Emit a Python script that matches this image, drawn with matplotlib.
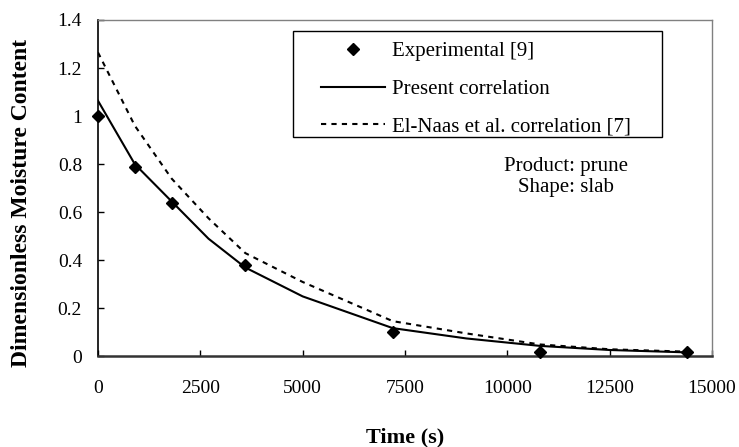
import matplotlib
matplotlib.use('Agg')
import matplotlib.pyplot as plt
from matplotlib.patches import Rectangle

plt.rcParams['font.family'] = ['Liberation Serif', 'DejaVu Serif']

# Experimental points
exp_t = [0, 900, 1800, 3600, 7200, 10800, 14400]
exp_m = [1.0, 0.79, 0.64, 0.38, 0.10, 0.02, 0.02]

# Curves
curve_t = [0, 900, 1800, 2700, 3600, 5000, 7200, 9000, 10800, 12500, 14400]
present = [1.064, 0.80, 0.645, 0.49, 0.37, 0.25, 0.118, 0.075, 0.044, 0.027, 0.017]
elnaas = [1.265, 0.96, 0.74, 0.575, 0.43, 0.31, 0.147, 0.096, 0.05, 0.03, 0.02]

xticks = [0, 2500, 5000, 7500, 10000, 12500, 15000]
yticks = [0, 0.2, 0.4, 0.6, 0.8, 1.0, 1.2, 1.4]
ytick_labels = ['0', '0.2', '0.4', '0.6', '0.8', '1', '1.2', '1.4']

fig = plt.figure(figsize=(7.39, 4.47), dpi=100)
ax = fig.add_axes([0.1326, 0.2025, 0.8309, 0.7528])

ax.plot(exp_t, exp_m, linestyle='none', marker='D', color='black',
        markersize=6.5, label='Experimental [9]', clip_on=False, zorder=4)
ax.plot(curve_t, present, color='black', lw=1.5, label='Present correlation')
ax.plot(curve_t, elnaas, color='black', lw=1.5, linestyle=(0, (2.5, 2.5)),
        label='El-Naas et al. correlation [7]')

ax.set_xlim(0, 15000)
ax.set_ylim(0, 1.4)
ax.set_xticks(xticks)
ax.set_xticklabels([str(t) for t in xticks])
ax.set_yticks(yticks)
ax.set_yticklabels(ytick_labels)
ax.tick_params(axis='both', direction='in', length=4.5, width=1, labelsize=14)
ax.tick_params(axis='x', pad=17)
ax.tick_params(axis='y', pad=11.5)

for side in ['top', 'right']:
    ax.spines[side].set_color('#808080')
    ax.spines[side].set_linewidth(1)
ax.spines['left'].set_color('black')
ax.spines['left'].set_linewidth(1.2)
ax.spines['bottom'].set_color('#333333')
ax.spines['bottom'].set_linewidth(1.8)

ax.set_xlabel('Time (s)', fontsize=16, fontweight='bold', va='center')
ax.xaxis.set_label_coords(0.5, -0.242)
ax.set_ylabel('Dimensionless Moisture Content', fontsize=17,
              fontweight='bold', va='center')
ax.yaxis.set_label_coords(-0.124, 0.455)

# legend entries without frame, box drawn separately
leg = ax.legend(loc='upper left', bbox_to_anchor=(0.3627, 0.935),
                fontsize=15, frameon=False, handlelength=3.1,
                handletextpad=0.3, labelspacing=0.86, borderpad=0,
                borderaxespad=0)
ax.add_patch(Rectangle((0.3176, 0.6523), 0.601, 0.315, transform=ax.transAxes,
                       fill=False, edgecolor='black', lw=1, zorder=5))

ax.text(0.762, 0.566, 'Product: prune', transform=ax.transAxes,
        ha='center', va='center', fontsize=15)
ax.text(0.762, 0.501, 'Shape: slab', transform=ax.transAxes,
        ha='center', va='center', fontsize=15)

fig.savefig('out.png', dpi=100)
